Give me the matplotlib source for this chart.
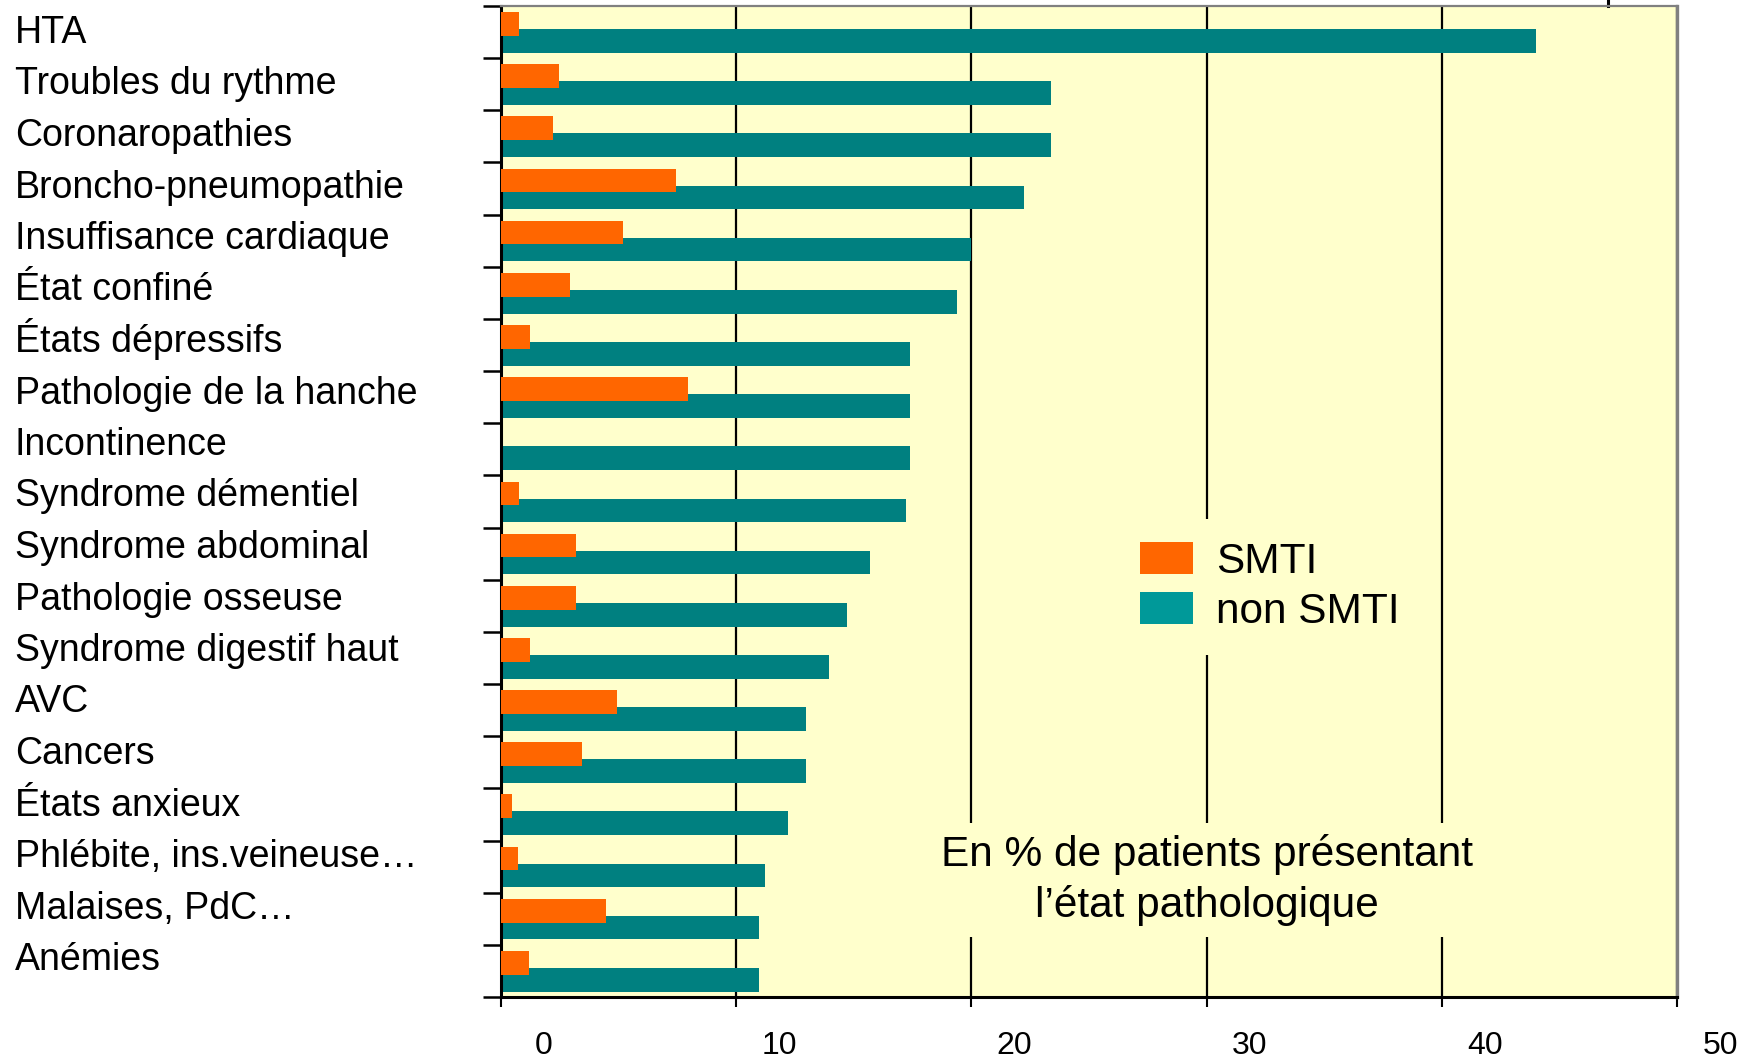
import matplotlib
matplotlib.use("Agg")
import matplotlib.pyplot as plt
import matplotlib.transforms as mtransforms
from matplotlib.patches import Patch
from matplotlib.lines import Line2D
import numpy as np

plt.rcParams['font.family'] = ['Liberation Sans', 'DejaVu Sans']

categories = [
    "HTA", "Troubles du rythme", "Coronaropathies", "Broncho-pneumopathie",
    "Insuffisance cardiaque", "État confiné", "États dépressifs",
    "Pathologie de la hanche", "Incontinence", "Syndrome démentiel",
    "Syndrome abdominal", "Pathologie osseuse", "Syndrome digestif haut",
    "AVC", "Cancers", "États anxieux", "Phlébite, ins.veineuse…",
    "Malaises, PdC…", "Anémies",
]
smti = [0.76, 2.47, 2.23, 7.45, 5.2, 2.94, 1.23, 7.97, 0.0, 0.76,
        3.2, 3.2, 1.23, 4.93, 3.46, 0.47, 0.74, 4.47, 1.2]
non_smti = [44.0, 23.4, 23.4, 22.25, 20.0, 19.4, 17.4, 17.4, 17.4, 17.2,
            15.7, 14.7, 13.95, 12.95, 12.95, 12.2, 11.23, 10.98, 10.98]
xticks = [0, 10, 20, 30, 40, 50]

ORANGE = "#FF6600"
TEAL = "#008080"
TEAL_LEGEND = "#009999"
BG = "#FFFFCC"

W, H = 1751, 1061
fig = plt.figure(figsize=(W / 100, H / 100), dpi=100)
ax = fig.add_axes([501 / W, 1 - 997 / H, (1677 - 501) / W, (997 - 6) / H])
ax.set_facecolor(BG)

y = np.arange(len(categories))
ax.barh(y + 0.17, non_smti, height=0.455, color=TEAL, zorder=2)
ax.barh(y - 0.155, smti, height=0.455, color=ORANGE, zorder=3)

ax.set_xlim(0, 50)
ax.set_ylim(len(categories) - 0.5, -0.5)

# vertical grid
ax.set_axisbelow(True)
ax.set_xticks(xticks)
ax.xaxis.grid(True, color="black", linewidth=1.6)
ax.tick_params(axis="x", direction="out", length=7.5, width=1.5,
               labelsize=23, pad=17, color="black")
# tick labels sit right of their ticks
shift = mtransforms.ScaledTranslation(0.43, 0, fig.dpi_scale_trans)
for lab in ax.get_xticklabels():
    lab.set_transform(lab.get_transform() + shift)

# category boundaries as ticks on the left
ax.set_yticks(np.arange(len(categories) + 1) - 0.5)
ax.set_yticklabels([])
ax.tick_params(axis="y", direction="out", length=13, width=1.8, color="black")

for s in ("left", "bottom"):
    ax.spines[s].set_color("black")
    ax.spines[s].set_linewidth(2.2)
ax.spines["top"].set_color("#808080")
ax.spines["top"].set_linewidth(1.6)
ax.spines["right"].set_color("#808080")
ax.spines["right"].set_linewidth(2.4)

# category names, left aligned
for i, name in enumerate(categories):
    fig.text(15 / W, 1 - (43 + 51.5 * i) / H, name, fontsize=27,
             ha="left", va="baseline")

handles = [Patch(facecolor=ORANGE, label="SMTI"),
           Patch(facecolor=TEAL_LEGEND, label="non SMTI")]
leg = ax.legend(handles=handles, loc="center", bbox_to_anchor=(0.654, 0.414),
                fontsize=30.5, frameon=True, facecolor=BG, edgecolor="none",
                framealpha=1, fancybox=False, handlelength=1.25,
                handleheight=0.78, handletextpad=0.55, labelspacing=0.23,
                borderpad=0.55)
leg.set_zorder(5)

ax.text(30, 0.118, "En % de patients présentant\nl’état pathologique",
        transform=mtransforms.blended_transform_factory(ax.transData, ax.transAxes),
        fontsize=30.5, ha="center", va="center", multialignment="center",
        linespacing=1.32, zorder=5,
        bbox=dict(boxstyle="square,pad=0.25", facecolor=BG, edgecolor="none"))

# short mark above the frame, upper right
ax.add_line(Line2D([0.941, 0.941], [1.0, 1.008], transform=ax.transAxes,
                   color="black", linewidth=2.2, clip_on=False))

fig.savefig("out.png", dpi=100, facecolor="white")
